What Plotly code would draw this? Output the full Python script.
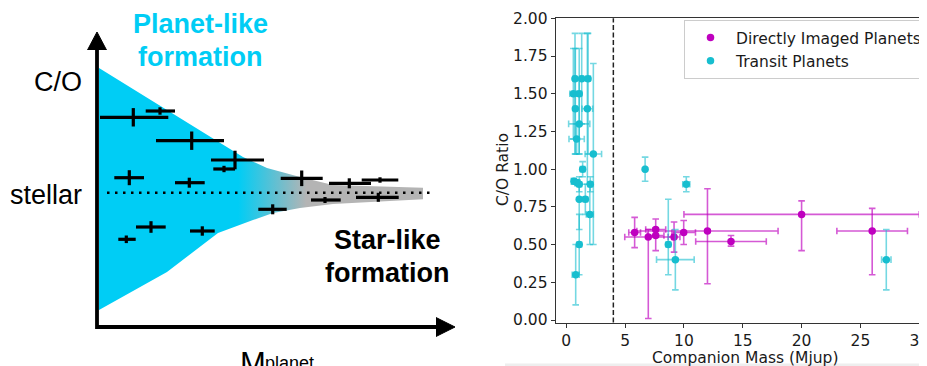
import plotly.graph_objects as go

# ---------------- Right panel data ----------------
transit_mass = [0.74, 1.31, 1.85, 0.60, 1.10, 0.77, 1.79, 1.10, 0.88, 2.30, 1.39, 6.70, 0.65,
                0.94, 1.10, 2.04, 10.2, 1.10, 1.62, 2.00, 1.10, 0.80, 8.67, 9.27, 27.2]
transit_mass_err = [0.15, 0.15, 0.20, 0.30, 0.20, 0.15, 0.45, 0.90, 0.65, 0.70, 0.20, 0.10, 0.20,
                    0.10, 0.20, 0.20, 0.30, 0.10, 0.20, 0.30, 0.20, 0.30, 0.20, 1.60, 0.40]
transit_co = [1.60, 1.60, 1.60, 1.50, 1.50, 1.40, 1.40, 1.30, 1.20, 1.10, 1.00, 1.00, 0.92,
              0.91, 0.90, 0.90, 0.90, 0.80, 0.80, 0.70, 0.50, 0.30, 0.50, 0.40, 0.40]
transit_co_plus = [0.30, 0.30, 0.30, 0.30, 0.30, 0.40, 0.50, 0.30, 0.10, 0.60, 0.05, 0.08, 0.02,
                   0.02, 0.05, 0.05, 0.05, 0.10, 0.10, 0.20, 0.20, 0.20, 0.30, 0.20, 0.20]
transit_co_minus = [0.50, 0.30, 0.50, 0.30, 0.40, 0.30, 0.50, 0.20, 0.10, 0.60, 0.05, 0.08, 0.02,
                    0.02, 0.05, 0.05, 0.05, 0.20, 0.10, 0.20, 0.20, 0.20, 0.20, 0.20, 0.20]

di_mass = [5.81, 6.97, 7.60, 7.60, 9.16, 9.98, 12.0, 14.0, 20.0, 26.0]
di_mass_err = [0.50, 2.00, 0.85, 0.70, 0.50, 1.00, 6.00, 3.00, 10.0, 3.00]
di_co = [0.58, 0.55, 0.60, 0.56, 0.55, 0.58, 0.59, 0.52, 0.70, 0.59]
di_co_plus = [0.10, 0.05, 0.07, 0.05, 0.10, 0.08, 0.28, 0.04, 0.09, 0.15]
di_co_minus = [0.10, 0.54, 0.05, 0.10, 0.10, 0.08, 0.35, 0.03, 0.24, 0.29]

mass_threshold = 4.0
x_ticks = [0, 5, 10, 15, 20, 25, 30]
y_ticks = [0.0, 0.25, 0.5, 0.75, 1.0, 1.25, 1.5, 1.75, 2.0]

# ---------------- Left schematic data (schematic units) ----------------
sch_x = [133.3, 160.0, 191.7, 235.0, 224.0, 129.3, 189.3, 301.7, 349.3, 380.0, 325.0, 378.3, 272.7, 151.0, 202.3, 126.3]
sch_y = [117.3, 111.0, 140.7, 160.0, 169.0, 177.7, 182.7, 178.3, 183.3, 180.0, 200.0, 197.3, 209.3, 227.0, 231.0, 239.3]
sch_xerr_minus = [33.3, 14.3, 35.7, 24.0, 10.7, 15.0, 14.3, 21.0, 20.3, 18.3, 14.0, 22.3, 14.4, 15.0, 12.3, 8.0]
sch_xerr_plus = [35.0, 15.0, 32.3, 29.0, 11.0, 14.7, 15.4, 21.0, 21.7, 18.3, 15.7, 20.4, 14.0, 14.7, 12.4, 9.4]
sch_yerr = [9.2, 3.7, 9.2, 9.3, 3.2, 7.5, 5.0, 7.8, 5.0, 2.7, 3.0, 4.5, 5.0, 5.8, 4.7, 3.8]

wedge_x = [99, 243, 267, 300, 333, 423, 423, 333, 300, 273, 253, 218, 167, 99]
wedge_y = [68, 157, 168, 177, 185, 187.7, 199.3, 204, 208, 213, 220, 233, 272, 310]
stellar_level = 192.7
stellar_x = [107, 432]
axis_path_x = [97, 97, 438]
axis_path_y = [46, 327, 327]
arrow_up_x = [87.5, 97, 106.5]
arrow_up_y = [50, 32, 50]
arrow_right_x = [436, 455, 436]
arrow_right_y = [317.5, 327, 336.5]

CYAN = "#00cdf5"
GRAY = "#b4b4b4"
TC = "#17becf"
MC = "#bf00bf"

# page body has an 8px margin: figure is drawn 8px in from the window edge
OFF = 8
W, H = 927 - OFF, 366 - OFF


def px(x):
    return (x - OFF) / W


def py(y):
    return 1 - (y - OFF) / H


fig = go.Figure()

# ----- schematic -----
fig.add_trace(go.Scatter(
    x=wedge_x, y=wedge_y, xaxis="x2", yaxis="y2", mode="lines", fill="toself",
    line=dict(width=0), showlegend=False, hoverinfo="skip",
    fillgradient=dict(type="horizontal", start=99, stop=423,
                      colorscale=[[0, CYAN], [0.43, CYAN], [0.64, GRAY], [1, GRAY]]),
))
fig.add_trace(go.Scatter(
    x=stellar_x, y=[stellar_level, stellar_level], xaxis="x2", yaxis="y2", mode="lines",
    line=dict(color="black", width=2.5, dash="2.5px,5.5px"), showlegend=False, hoverinfo="skip"))
fig.add_trace(go.Scatter(
    x=sch_x, y=sch_y, xaxis="x2", yaxis="y2", mode="markers",
    marker=dict(size=1, opacity=0), showlegend=False, hoverinfo="skip",
    error_x=dict(type="data", array=sch_xerr_plus, arrayminus=sch_xerr_minus, symmetric=False,
                 color="black", thickness=3.2, width=0),
    error_y=dict(type="data", array=sch_yerr, color="black", thickness=3.2, width=0)))
fig.add_trace(go.Scatter(
    x=axis_path_x, y=axis_path_y, xaxis="x2", yaxis="y2", mode="lines",
    line=dict(color="black", width=3.8), showlegend=False, hoverinfo="skip"))
for ax_, ay_ in [(arrow_up_x, arrow_up_y), (arrow_right_x, arrow_right_y)]:
    fig.add_trace(go.Scatter(
        x=ax_, y=ay_, xaxis="x2", yaxis="y2", mode="lines", fill="toself",
        fillcolor="black", line=dict(color="black", width=1), showlegend=False, hoverinfo="skip"))


def sch_text(txt, x, y, size=27, color="black", bold=False, xanchor="center", yanchor="middle"):
    fig.add_annotation(
        x=x, y=y, xref="x2", yref="y2", text=f"<b>{txt}</b>" if bold else txt,
        showarrow=False, xanchor=xanchor, yanchor=yanchor,
        font=dict(family="Liberation Sans, Arial, sans-serif", size=size, color=color))


sch_text("Planet-like", 200, 24, color=CYAN, bold=True)
sch_text("formation", 200, 57, color=CYAN, bold=True)
sch_text("C/O", 57.5, 82)
sch_text("stellar", 46, 195)
sch_text("Star-like", 387.5, 239.5, bold=True)
sch_text("formation", 387, 273, bold=True)
sch_text("M", 238, 344, size=31, xanchor="left", yanchor="top")
sch_text("planet", 262.5, 351, size=18, xanchor="left", yanchor="top")

# ----- data panel -----
fig.add_vline(x=mass_threshold, line=dict(color="#222222", width=1.5, dash="5px,2.5px"),
              xref="x", yref="y")

fig.add_trace(go.Scatter(
    x=di_mass, y=di_co, mode="markers", name="Directly Imaged Planets",
    marker=dict(color=MC, size=7.5),
    error_x=dict(type="data", array=di_mass_err, color="rgba(191,0,191,0.65)", thickness=1.6, width=3.3),
    error_y=dict(type="data", array=di_co_plus, arrayminus=di_co_minus, symmetric=False,
                 color="rgba(191,0,191,0.65)", thickness=1.6, width=3.3)))
fig.add_trace(go.Scatter(
    x=transit_mass, y=transit_co, mode="markers", name="Transit Planets",
    marker=dict(color=TC, size=7.5),
    error_x=dict(type="data", array=transit_mass_err, color="rgba(23,190,207,0.6)", thickness=1.6, width=3.3),
    error_y=dict(type="data", array=transit_co_plus, arrayminus=transit_co_minus, symmetric=False,
                 color="rgba(23,190,207,0.6)", thickness=1.6, width=3.3)))

FONT = dict(family="DejaVu Sans, sans-serif", size=15.5, color="#1a1a1a")

fig.add_annotation(text="Companion Mass (Mjup)", x=px(745.7), y=py(358), xref="paper", yref="paper",
                   showarrow=False, xanchor="center", yanchor="middle", font=FONT)
fig.add_annotation(text="C/O Ratio", x=px(503), y=py(170), xref="paper", yref="paper",
                   showarrow=False, xanchor="center", yanchor="middle", textangle=-90, font=FONT)

# faint grey strip along the bottom edge of the right panel
fig.add_shape(type="rect", xref="paper", yref="paper", x0=px(505), x1=1, y0=0, y1=py(363.5),
              fillcolor="#eeeeee", line=dict(width=0), layer="below")

fig.update_layout(
    width=W, height=H, margin=dict(l=0, r=0, t=0, b=0),
    paper_bgcolor="white", plot_bgcolor="white", font=FONT,
    xaxis=dict(domain=[px(555.7), 1], range=[-0.9, 30.66], tickvals=x_ticks,
               ticks="outside", ticklen=4, tickwidth=1, tickcolor="#333",
               showline=True, linecolor="#333", linewidth=1, mirror=True,
               ticklabeloverflow="allow",
               showgrid=False, zeroline=False, automargin=False, anchor="y", tickfont=FONT),
    yaxis=dict(domain=[py(322.5), py(18.3)], range=[-0.0166, 2.0], tickvals=y_ticks,
               tickformat=".2f", ticks="outside", ticklen=4, tickwidth=1, tickcolor="#333",
               showline=True, linecolor="#333", linewidth=1,
               showgrid=False, zeroline=False, automargin=False, anchor="x", tickfont=FONT),
    xaxis2=dict(domain=[0, px(460)], range=[OFF, 460], visible=False, anchor="y2", fixedrange=True),
    yaxis2=dict(domain=[0, 1], range=[366, OFF], visible=False, anchor="x2", fixedrange=True),
    legend=dict(x=px(684), y=py(20), xanchor="left", yanchor="top",
                bgcolor="white", bordercolor="#cccccc", borderwidth=1, font=FONT,
                tracegroupgap=0, itemwidth=41),
    showlegend=True,
)

fig.write_html("out.html")
